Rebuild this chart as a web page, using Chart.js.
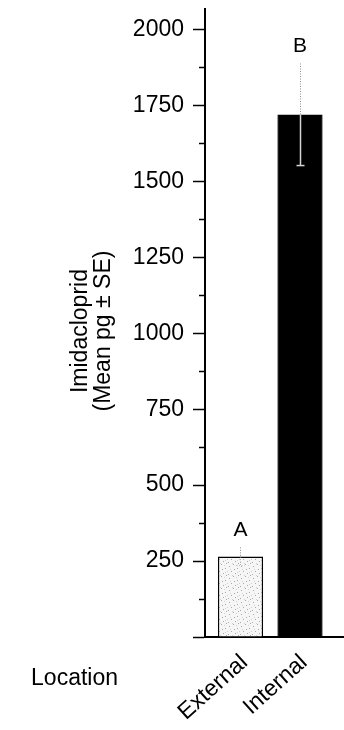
<!DOCTYPE html>
<html>
<head>
<meta charset="utf-8">
<script src="https://cdn.jsdelivr.net/npm/chart.js@4/dist/chart.umd.min.js"></script>
<style>
  html, body { margin: 0; padding: 0; background: #fff; overflow: hidden; }
  canvas { display: block; }
</style>
</head>
<body>
<canvas id="c" width="344" height="730"></canvas>
<script>
// Imidacloprid residue by location (mean pg ± SE)
const categories = ['External', 'Internal'];
const means = [265, 1720];
const stdErrors = [30, 168];
const groupLetters = ['A', 'B'];
const yMajorTicks = [0, 250, 500, 750, 1000, 1250, 1500, 1750, 2000];
const yMinorTicks = [125, 375, 625, 875, 1125, 1375, 1625, 1875];
const yAxisTitle = ['Imidacloprid', '(Mean pg \u00B1 SE)'];
const xAxisTitle = 'Location';

const Y_MAX = 2067;
const FONT = "'Liberation Sans', Arial, Helvetica, sans-serif";

Chart.defaults.font.family = FONT;
Chart.defaults.color = '#000';

// light stippled fill for the external bar
function stipple() {
  const p = document.createElement('canvas');
  p.width = 12; p.height = 12;
  const g = p.getContext('2d');
  g.fillStyle = '#f6f6f6';
  g.fillRect(0, 0, 12, 12);
  g.fillStyle = '#a8a8a8';
  [[1,2],[5,0],[9,4],[3,7],[7,9],[10,11],[0,10],[6,5]].forEach(([x, y]) => g.fillRect(x, y, 1, 1));
  g.fillStyle = '#d0d0d0';
  [[2,5],[8,1],[11,7],[4,11],[9,8]].forEach(([x, y]) => g.fillRect(x, y, 1, 1));
  return g.createPattern(p, 'repeat');
}

const ctx = document.getElementById('c').getContext('2d');

// minor ticks, error bars, significance letters and free-standing titles
const extras = {
  id: 'extras',
  afterDatasetsDraw(chart) {
    const c = chart.ctx;
    const ys = chart.scales.y, xs = chart.scales.x;
    const left = chart.chartArea.left;
    c.save();

    // minor ticks on the value axis
    c.strokeStyle = '#000';
    c.lineWidth = 1.5;
    yMinorTicks.forEach(v => {
      const py = Math.round(ys.getPixelForValue(v)) + 0.5;
      c.beginPath();
      c.moveTo(left - 6, py);
      c.lineTo(left, py);
      c.stroke();
    });

    // error bars
    const meta = chart.getDatasetMeta(0);
    means.forEach((m, i) => {
      const bar = meta.data[i];
      const px = Math.round(bar.x) + 0.5;
      const yTop = ys.getPixelForValue(m + stdErrors[i]);
      const yMean = ys.getPixelForValue(m);
      const yBot = ys.getPixelForValue(m - stdErrors[i]);
      c.lineWidth = 1;
      c.setLineDash([1, 1.5]);
      c.strokeStyle = '#8c8c8c';
      c.beginPath(); c.moveTo(px, yTop); c.lineTo(px, yMean); c.stroke();
      c.setLineDash(i === 1 ? [] : [1, 1.5]);
      c.lineWidth = i === 1 ? 1.5 : 1;
      c.strokeStyle = i === 1 ? '#d4d4d4' : '#b8b8b8';
      c.beginPath(); c.moveTo(px, yMean); c.lineTo(px, yBot); c.stroke();
      c.beginPath(); c.moveTo(px - 4, yBot); c.lineTo(px + 4, yBot); c.stroke();
      c.setLineDash([]);

      // group letter above the error bar
      c.fillStyle = '#000';
      c.font = '21px ' + FONT;
      c.textAlign = 'center';
      c.textBaseline = 'middle';
      c.fillText(groupLetters[i], bar.x, yTop - 17);
    });

    // value axis title, two lines
    c.save();
    c.translate(92, (chart.chartArea.top + chart.chartArea.bottom) / 2 + 8);
    c.rotate(-Math.PI / 2);
    c.font = '23px ' + FONT;
    c.textAlign = 'center';
    c.textBaseline = 'middle';
    c.fillStyle = '#000';
    c.fillText(yAxisTitle[0], 0, -11);
    c.fillText(yAxisTitle[1], 0, 12);
    c.restore();

    // category axis title
    c.font = '23px ' + FONT;
    c.textAlign = 'right';
    c.textBaseline = 'middle';
    c.fillStyle = '#000';
    c.fillText(xAxisTitle, left - 87, xs.top + 42);

    c.restore();
  }
};

new Chart(ctx, {
  type: 'bar',
  data: {
    datasets: [{
      data: categories.map((_, i) => ({ x: i + 1, y: means[i] })),
      backgroundColor: [stipple(), '#000'],
      borderColor: '#000',
      borderWidth: 1.5,
      borderSkipped: 'bottom',
      categoryPercentage: 1,
      barPercentage: 0.76
    }]
  },
  options: {
    responsive: false,
    animation: false,
    devicePixelRatio: 1,
    layout: { padding: { top: 9, right: 0, bottom: 0, left: 0 } },
    plugins: { legend: { display: false }, tooltip: { enabled: false } },
    scales: {
      x: {
        type: 'linear',
        offset: false,
        min: 0.4034,
        max: 2.7395,
        afterBuildTicks(s) { s.ticks = categories.map((_, i) => ({ value: i + 1 })); },
        afterFit(s) { s.height = 93; },
        grid: { display: true, offset: false, drawOnChartArea: false, drawTicks: false, color: 'rgba(0,0,0,0)' },
        border: { display: true, color: '#000', width: 2 },
        ticks: {
          autoSkip: false,
          minRotation: 42,
          maxRotation: 42,
          padding: 12,
          labelOffset: 4,
          font: { size: 23 },
          color: '#000',
          callback: v => categories[Math.round(v) - 1]
        }
      },
      y: {
        min: 0,
        max: Y_MAX,
        afterBuildTicks(s) {
          s.ticks = yMajorTicks.map(v => ({ value: v })).concat([{ value: Y_MAX }]);
        },
        afterFit(s) { s.width = 205; },
        grid: { drawOnChartArea: false, drawTicks: true, tickLength: 12, tickColor: '#000', tickWidth: 1.5 },
        border: { display: true, color: '#000', width: 2 },
        ticks: {
          autoSkip: false,
          padding: 9,
          font: { size: 23, lineHeight: 0.01 },
          color: '#000',
          callback: v => (v === Y_MAX ? null : (v === 0 ? '' : String(v)))
        }
      }
    }
  },
  plugins: [extras]
});
</script>
</body>
</html>
